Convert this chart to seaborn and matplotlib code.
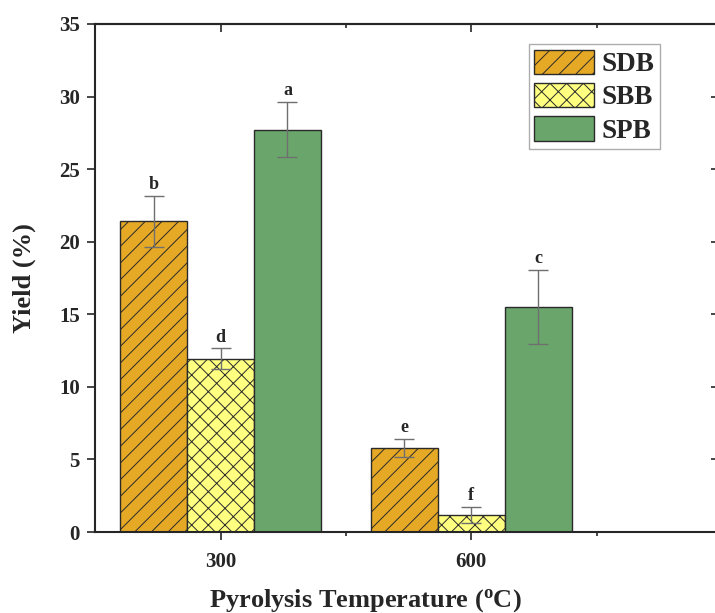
import numpy as np
import pandas as pd
import seaborn as sns
import matplotlib
matplotlib.use("Agg")
import matplotlib.pyplot as plt
from matplotlib.ticker import FixedLocator

temps = ["300", "600"]
series = ["SDB", "SBB", "SPB"]
sdb = [21.4, 5.8]
sbb = [11.95, 1.15]
spb = [27.7, 15.5]
sdb_err = [1.75, 0.6]
sbb_err = [0.7, 0.55]
spb_err = [1.9, 2.55]
letters = {"SDB": ["b", "e"], "SBB": ["d", "f"], "SPB": ["a", "c"]}

sns.set_style("ticks")
plt.rcParams["font.family"] = ["Liberation Serif", "DejaVu Serif"]
plt.rcParams["font.weight"] = "bold"
plt.rcParams["mathtext.fontset"] = "custom"
plt.rcParams["mathtext.rm"] = "Liberation Serif:bold"
plt.rcParams["mathtext.bf"] = "Liberation Serif:bold"
plt.rcParams["mathtext.it"] = "Liberation Serif:bold"
plt.rcParams["hatch.linewidth"] = 0.7
plt.rcParams["hatch.color"] = "#2a2a2a"

df = pd.DataFrame({
    "Temperature": temps * 3,
    "Sample": [s for s in series for _ in temps],
    "Yield": sdb + sbb + spb,
})
errs = {"SDB": sdb_err, "SBB": sbb_err, "SPB": spb_err}
vals = {"SDB": sdb, "SBB": sbb, "SPB": spb}
colors = {"SDB": "#E6A925", "SBB": "#FFFF80", "SPB": "#6AA66B"}
hatches = {"SDB": "//", "SBB": "xx", "SPB": ""}

fig = plt.figure(figsize=(7.15, 6.13), dpi=100)
ax = fig.add_axes([0.133, 0.132, 0.870, 0.829])

sns.barplot(data=df, x="Temperature", y="Yield", hue="Sample",
            palette=colors, order=temps, hue_order=series,
            edgecolor="#2a2a2a", linewidth=1.0, width=0.8, ax=ax,
            errorbar=None, saturation=1)

for cont, s in zip(ax.containers, series):
    for i, bar in enumerate(cont):
        bar.set_hatch(hatches[s])
        cx = bar.get_x() + bar.get_width() / 2
        v = vals[s][i]
        e = errs[s][i]
        ax.errorbar(cx, v, yerr=e, ecolor="#6f6f6f", elinewidth=1.0,
                    capsize=7, capthick=1.0, fmt="none", zorder=5)
        ax.text(cx, v + e + 0.2, letters[s][i], ha="center", va="bottom",
                fontsize=13, fontweight="bold")

ax.set_xlim(-0.5, 1.98)
ax.set_ylim(0, 35)
ax.set_yticks(np.arange(0, 36, 5))
ax.xaxis.set_minor_locator(FixedLocator([0.5, 1.5]))
ax.tick_params(axis="both", which="major", width=1.2, length=6, direction="out")
ax.tick_params(axis="x", which="major", labelsize=15, pad=8)
ax.tick_params(axis="y", which="major", labelsize=15, pad=5)
ax.tick_params(axis="x", which="minor", width=1.2, length=3, direction="out")
for sp in ax.spines.values():
    sp.set_linewidth(1.5)
    sp.set_visible(True)

top = ax.secondary_xaxis("top")
top.set_xticks([0, 1])
top.xaxis.set_minor_locator(FixedLocator([0.5, 1.5]))
top.tick_params(which="major", direction="in", length=6, width=1.2, labeltop=False)
top.tick_params(which="minor", direction="in", length=3, width=1.2)
top.spines["top"].set_linewidth(1.5)
right = ax.secondary_yaxis("right")
right.set_yticks(np.arange(0, 36, 5))
right.tick_params(direction="in", length=4, width=1.2, labelright=False)
right.spines["right"].set_linewidth(1.5)

ax.set_xlabel(r"Pyrolysis Temperature ($^{\mathrm{o}}$C)", fontsize=19, fontweight="bold")
ax.xaxis.set_label_coords(0.435, -0.108)
ax.set_ylabel("Yield (%)", fontsize=19, fontweight="bold")
ax.yaxis.set_label_coords(-0.095, 0.5)

leg = ax.legend(loc="upper left", bbox_to_anchor=(0.697, 0.96),
                fontsize=19.5, frameon=True, fancybox=False, edgecolor="#999999",
                handlelength=2.2, handleheight=1.0, borderpad=0.2,
                labelspacing=0.22, handletextpad=0.3, borderaxespad=0.0,
                title=None)
leg.get_frame().set_linewidth(1.0)
for h, s in zip(leg.legend_handles, series):
    h.set_hatch(hatches[s])
for t in leg.get_texts():
    t.set_fontweight("bold")

fig.savefig("out.png", dpi=100)
